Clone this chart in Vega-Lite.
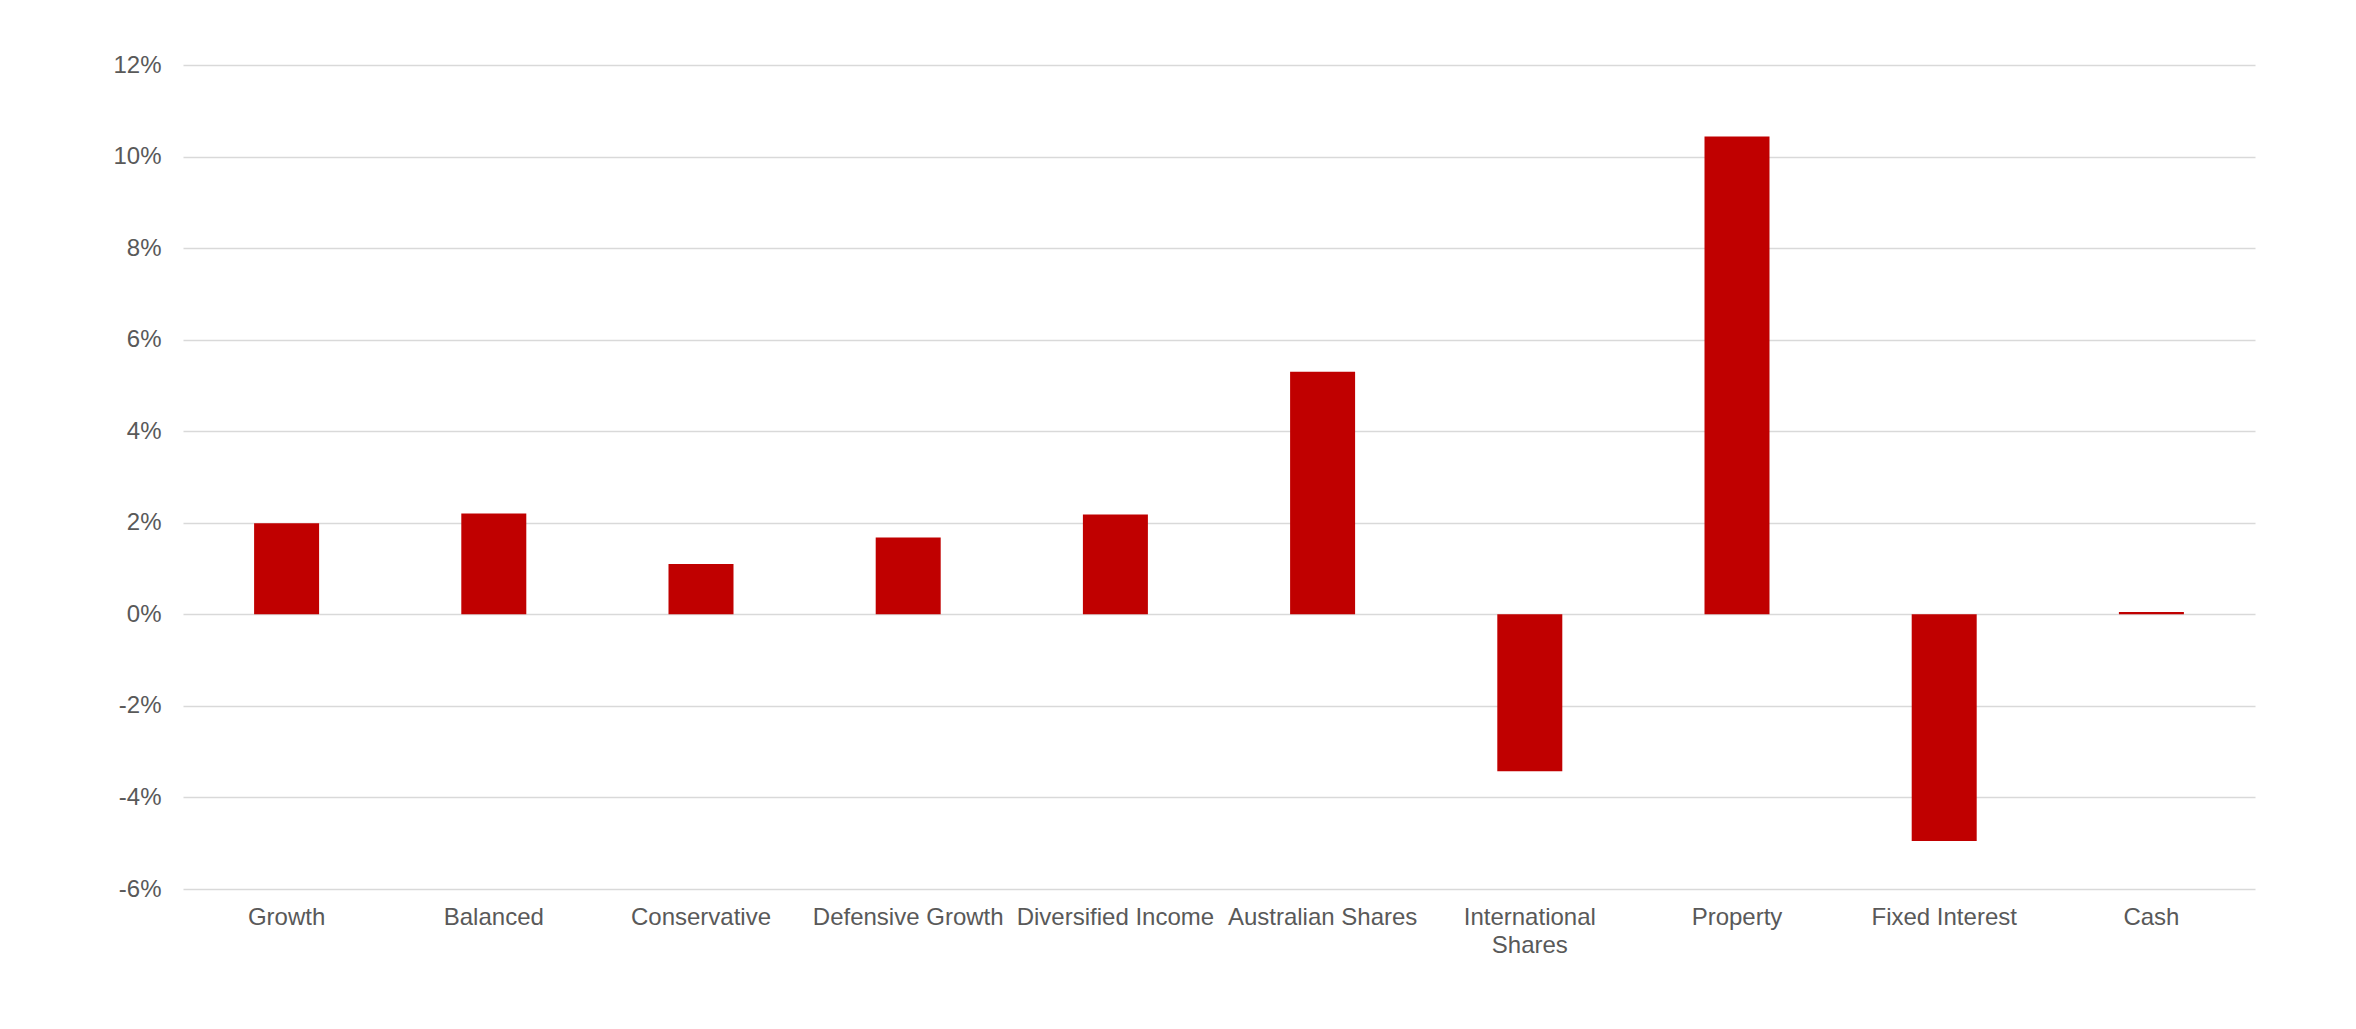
{
  "$schema": "https://vega.github.io/schema/vega-lite/v6.json",
  "width": 2072,
  "height": 824,
  "autosize": {"type": "none"},
  "padding": {"left": 183, "top": 65, "right": 101, "bottom": 140},
  "background": "#ffffff",
  "config": {
    "view": {"stroke": null},
    "font": "Liberation Sans"
  },
  "data": {
    "values": [
      {"category": "Growth", "value": 0.0199},
      {"category": "Balanced", "value": 0.022},
      {"category": "Conservative", "value": 0.011},
      {"category": "Defensive Growth", "value": 0.0168},
      {"category": "Diversified Income", "value": 0.0218},
      {"category": "Australian Shares", "value": 0.053},
      {"category": "International Shares", "value": -0.0343},
      {"category": "Property", "value": 0.1044},
      {"category": "Fixed Interest", "value": -0.0495},
      {"category": "Cash", "value": 0.0005}
    ]
  },
  "mark": {"type": "bar", "color": "#c00000", "width": 65},
  "encoding": {
    "x": {
      "field": "category",
      "type": "nominal",
      "sort": null,
      "scale": {"paddingInner": 0, "paddingOuter": 0},
      "axis": {
        "title": null,
        "domain": false,
        "ticks": false,
        "labelAngle": 0,
        "labelFontSize": 24,
        "labelColor": "#595959",
        "labelPadding": 16,
        "labelLineHeight": 28,
        "labelLimit": 0,
        "labelExpr": "datum.label == 'International Shares' ? ['International', 'Shares'] : datum.label"
      }
    },
    "y": {
      "field": "value",
      "type": "quantitative",
      "scale": {"domain": [-0.06, 0.12], "nice": false, "zero": false},
      "axis": {
        "title": null,
        "values": [-0.06, -0.04, -0.02, 0, 0.02, 0.04, 0.06, 0.08, 0.1, 0.12],
        "labelExpr": "replace(format(datum.value, '.0%'), '\u2212', '-')",
        "domain": false,
        "ticks": false,
        "grid": true,
        "gridColor": "#d9d9d9",
        "gridWidth": 1.5,
        "labelFontSize": 24,
        "labelColor": "#595959",
        "labelPadding": 22
      }
    }
  }
}
